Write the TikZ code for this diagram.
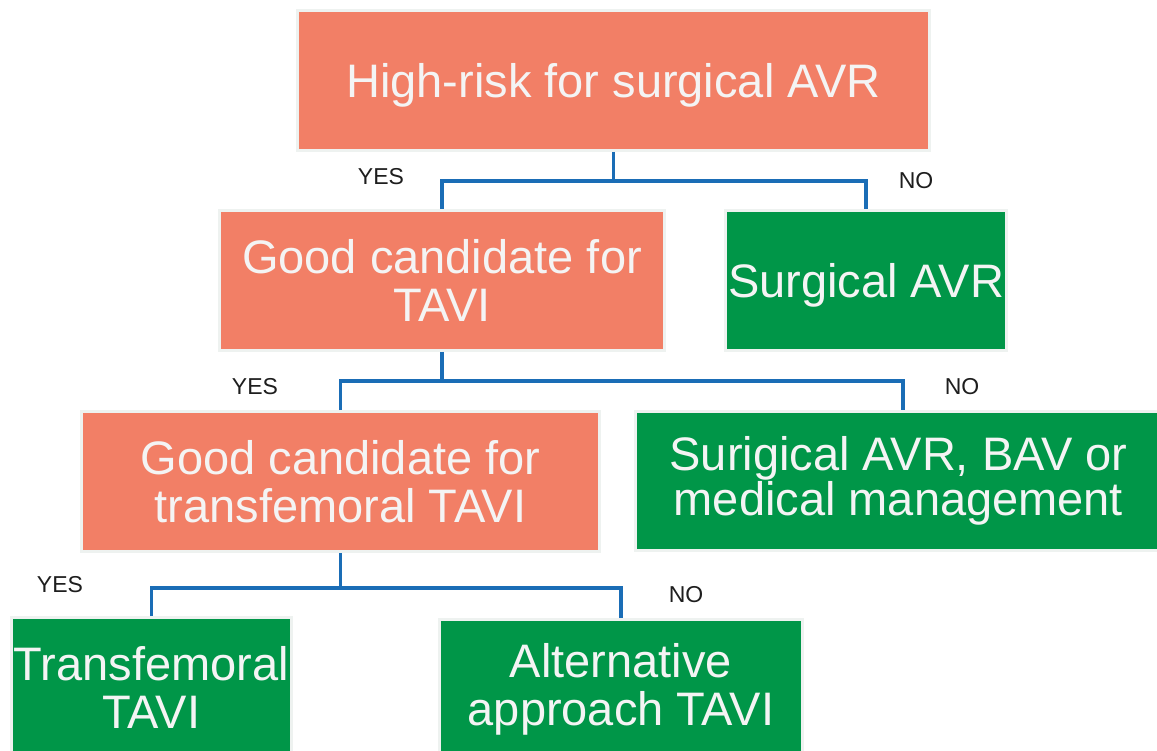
\documentclass[tikz,border=0pt]{standalone}
\usepackage{fontspec}
\setmainfont{Liberation Sans}
\begin{document}
\definecolor{salmon}{HTML}{F27F66}
\definecolor{decgreen}{HTML}{009648}
\definecolor{linkblue}{HTML}{1A6DB6}
\definecolor{rim}{HTML}{EEF2F0}
\definecolor{boxtext}{HTML}{F4F4F4}
\definecolor{labeltext}{HTML}{1E1E1E}
\begin{tikzpicture}[x=1pt,y=-1pt,
  box/.style={draw=rim, line width=3pt, inner sep=0pt, align=center,
    text=boxtext, font=\fontsize{47}{48}\selectfont},
  oneline/.style={text depth=0pt},
  question/.style={box, fill=salmon},
  outcome/.style={box, fill=decgreen},
  link/.style={draw=linkblue, line width=3.5pt},
  answer/.style={text=labeltext, inner sep=0pt, font=\fontsize{23}{25}\selectfont}]
\useasboundingbox (0,0) rectangle (1157,751);
\fill[white] (0,0) rectangle (1157,751);

% decision boxes
\node[question, oneline, minimum width=632, minimum height=140] (top)  at (613.5,80.5) {High-risk for surgical AVR};
\node[question, minimum width=445, minimum height=140] (tavi) at (442,280.5) {Good candidate for\\TAVI};
\node[outcome, oneline, minimum width=281, minimum height=140] (savr) at (866,280.5) {Surgical AVR};
\node[question, minimum width=518, minimum height=140] (tf)   at (340.5,481.5) {Good candidate for\\transfemoral TAVI};
\node[outcome,  minimum width=526, minimum height=139] (med)  at (898.5,480.5) {\raisebox{-3pt}{Surigical AVR, BAV or}\\medical management};
\node[outcome,  minimum width=280, minimum height=140] (tfv)  at (151.5,687.5) {Transfemoral\\TAVI};
\node[outcome,  minimum width=363, minimum height=140] (alt)  at (621,689.5) {Alternative\\approach TAVI};

% branch points
\coordinate (j1) at (613.5,181);
\coordinate (j2) at (442,381);
\coordinate (j3) at (340.5,588);

% connectors
\draw[link] (top.south) -- (j1);
\draw[link] (tavi.north) |- (j1) -| (savr.north);
\draw[link] (tavi.south) -- (j2);
\draw[link] (tf.north) |- (j2) -| ([xshift=4.5pt]med.north);
\draw[link] (tf.south) -- (j3);
\draw[link] (tfv.north) |- (j3) -| (alt.north);

% answers
\node[answer] (y1) at (381,177) {YES};
\node[answer] (n1) at (916,181) {NO};
\node[answer] (y2) at (255,387) {YES};
\node[answer] (n2) at (962,387) {NO};
\node[answer] (y3) at (60,585) {YES};
\node[answer] (n3) at (686,595) {NO};
\end{tikzpicture}
\end{document}
